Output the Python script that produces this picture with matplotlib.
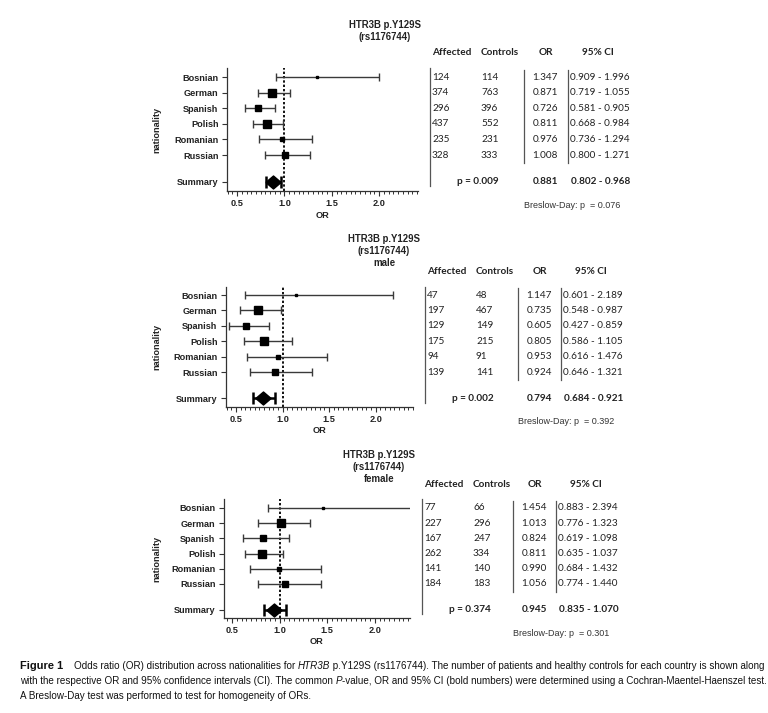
import numpy as np
import matplotlib
matplotlib.use("Agg")
import matplotlib.pyplot as plt
from matplotlib.transforms import blended_transform_factory
from matplotlib.ticker import MultipleLocator, FixedLocator
from matplotlib.lines import Line2D
from matplotlib import font_manager

# ---------------- data ----------------
nationalities = ["Bosnian", "German", "Spanish", "Polish", "Romanian", "Russian"]
summary_label = "Summary"
panel_titles = ["HTR3B p.Y129S\n(rs1176744)",
                "HTR3B p.Y129S\n(rs1176744)\nmale",
                "HTR3B p.Y129S\n(rs1176744)\nfemale"]
xticks = [0.5, 1.0, 1.5, 2.0]
xtick_labels = ["0.5", "1.0", "1.5", "2.0"]
table_headers = ["Affected", "Controls", "OR", "95% CI"]

# all
affected_all = [124, 374, 296, 437, 235, 328]
controls_all = [114, 763, 396, 552, 231, 333]
or_all = [1.347, 0.871, 0.726, 0.811, 0.976, 1.008]
lo_all = [0.909, 0.719, 0.581, 0.668, 0.736, 0.800]
hi_all = [1.996, 1.055, 0.905, 0.984, 1.294, 1.271]
sum_or_all, sum_lo_all, sum_hi_all = 0.881, 0.802, 0.968
p_all, bd_all = "0.009", "0.076"

# male
affected_m = [47, 197, 129, 175, 94, 139]
controls_m = [48, 467, 149, 215, 91, 141]
or_m = [1.147, 0.735, 0.605, 0.805, 0.953, 0.924]
lo_m = [0.601, 0.548, 0.427, 0.586, 0.616, 0.646]
hi_m = [2.189, 0.987, 0.859, 1.105, 1.476, 1.321]
sum_or_m, sum_lo_m, sum_hi_m = 0.794, 0.684, 0.921
p_m, bd_m = "0.002", "0.392"

# female
affected_f = [77, 227, 167, 262, 141, 184]
controls_f = [66, 296, 247, 334, 140, 183]
or_f = [1.454, 1.013, 0.824, 0.811, 0.990, 1.056]
lo_f = [0.883, 0.776, 0.619, 0.635, 0.684, 0.774]
hi_f = [2.394, 1.323, 1.098, 1.037, 1.432, 1.440]
sum_or_f, sum_lo_f, sum_hi_f = 0.945, 0.835, 1.070
p_f, bd_f = "0.374", "0.301"

panels = [
    (affected_all, controls_all, or_all, lo_all, hi_all, sum_or_all, sum_lo_all, sum_hi_all, p_all, bd_all),
    (affected_m, controls_m, or_m, lo_m, hi_m, sum_or_m, sum_lo_m, sum_hi_m, p_m, bd_m),
    (affected_f, controls_f, or_f, lo_f, hi_f, sum_or_f, sum_lo_f, sum_hi_f, p_f, bd_f),
]

# ---------------- layout ----------------
W, H = 768, 713
DPI = 100
fig = plt.figure(figsize=(W / DPI, H / DPI), dpi=DPI)
fig.patch.set_facecolor("white")

avail = {f.name for f in font_manager.fontManager.ttflist}
PLOT_FONT = "Liberation Sans"
TABLE_FONT = "Lato" if "Lato" in avail else "Liberation Sans"
CAP_FONT = "Liberation Sans Narrow" if "Liberation Sans Narrow" in avail else "Liberation Sans"

def fx(x):
    return x / W

def fy(y):
    return 1 - y / H

# per panel: axes box (left, top, right, bottom) in px, xlim, ylim, title centre, table column lines
layouts = [
    dict(box=(227, 68, 418, 191), xlim=(0.394, 2.41), ylim=(7.30, -0.58), title=(385, 31), cols=(430, 524, 568)),
    dict(box=(226, 287, 413, 407), xlim=(0.393, 2.40), ylim=(7.27, -0.52), title=(384, 251), cols=(425, 518, 561)),
    dict(box=(224, 499, 410, 618), xlim=(0.416, 2.37), ylim=(7.24, -0.59), title=(379, 467), cols=(422, 513, 556)),
]
SUM_Y = 6.7
LAB_FS = 6.6
TAB_FS = 7.2

for pdata, lay in zip(panels, layouts):
    aff, ctl, orv, lo, hi, sor, slo, shi, pval, bd = pdata
    orv, lo, hi = np.array(orv), np.array(lo), np.array(hi)
    l, t, r, b = lay["box"]
    ax = fig.add_axes([fx(l), fy(b), (r - l) / W, (b - t) / H])
    ax.set_xlim(*lay["xlim"])
    ax.set_ylim(*lay["ylim"])
    ys = np.arange(len(nationalities))

    # dotted reference line
    ax.axvline(1.0, color="black", lw=1.3, ls=(0, (1.3, 1.1)), zorder=1)

    # CIs
    ax.errorbar(orv, ys, xerr=[orv - lo, hi - orv], fmt="none", ecolor="#3a3a3a",
                elinewidth=1.0, capsize=2.6, capthick=1.0, zorder=2)
    # squares sized by inverse variance weight
    se = (np.log(hi) - np.log(lo)) / 3.92
    w = 1 / se ** 2
    side_px = np.maximum(8.8 * w / w.max(), 2.6)
    for xv, yv, s in zip(orv, ys, side_px):
        ax.plot(xv, yv, marker="s", ms=s * 0.72, color="black", ls="none", zorder=3)

    # summary
    ax.errorbar([sor], [SUM_Y], xerr=[[sor - slo], [shi - sor]], fmt="none", ecolor="black",
                elinewidth=1.8, capsize=4.2, capthick=1.8, zorder=2)
    diamond = [(-1, 0), (0, 0.85), (1, 0), (0, -0.85), (-1, 0)]
    ax.plot([sor], [SUM_Y], marker=diamond, ms=11, color="black", ls="none", zorder=3)

    # axes styling
    for sp in ["top", "right"]:
        ax.spines[sp].set_visible(False)
    for sp in ["left", "bottom"]:
        ax.spines[sp].set_color("#333333")
        ax.spines[sp].set_linewidth(0.9)
    ax.set_xticks(xticks)
    ax.set_xticklabels(xtick_labels)
    ax.xaxis.set_minor_locator(MultipleLocator(0.05))
    ax.set_yticks(list(ys) + [SUM_Y])
    ax.set_yticklabels(nationalities + [summary_label])
    ax.tick_params(axis="both", which="major", direction="out", length=3.5, width=0.8,
                   color="#333333", pad=2.5)
    ax.tick_params(axis="x", which="minor", direction="out", length=2, width=0.7, color="#333333")
    for lab in ax.get_xticklabels() + ax.get_yticklabels():
        lab.set_fontfamily(PLOT_FONT)
        lab.set_fontweight("bold")
        lab.set_fontsize(LAB_FS)
        lab.set_color("#222222")

    # title
    tx, ty = lay["title"]
    fig.text(fx(tx), fy(ty), pdata and panel_titles[layouts.index(lay)], ha="center", va="center",
             fontfamily=PLOT_FONT, fontweight="bold", fontsize=6.9, linespacing=1.2, color="#222222")
    # axis labels
    fig.text(fx(157), fy((t + b) / 2), "nationality", rotation=90, ha="center", va="center",
             fontfamily=PLOT_FONT, fontweight="bold", fontsize=LAB_FS, color="#222222")
    fig.text(fx((l + r) / 2), fy(b + 24), "OR", ha="center", va="center",
             fontfamily=PLOT_FONT, fontweight="bold", fontsize=LAB_FS, color="#222222")

    # table
    x1, x2, x3 = lay["cols"]
    tr = blended_transform_factory(fig.transFigure, ax.transData)
    kw = dict(transform=tr, fontfamily=TABLE_FONT, fontsize=TAB_FS, color="#222222",
              va="center", clip_on=False)
    hy = -1.55
    fig.text(fx(x1 + 2), hy, table_headers[0], ha="left", fontweight="bold", **kw)
    fig.text(fx(x1 + 51), hy, table_headers[1], ha="left", fontweight="bold", **kw)
    fig.text(fx(x2 + 22), hy, table_headers[2], ha="center", fontweight="bold", **kw)
    fig.text(fx(x3 + 30), hy, table_headers[3], ha="center", fontweight="bold", **kw)
    for i in range(len(nationalities)):
        fig.text(fx(x1 + 2), i, str(aff[i]), ha="left", **kw)
        fig.text(fx(x1 + 51), i, str(ctl[i]), ha="left", **kw)
        fig.text(fx(x2 + 34), i, f"{orv[i]:.3f}", ha="right", **kw)
        fig.text(fx(x3 + 2), i, f"{lo[i]:.3f} - {hi[i]:.3f}", ha="left", **kw)
    fig.text(fx(x1 + 27), SUM_Y, f"p = {pval}", ha="left", fontweight="bold", **kw)
    fig.text(fx(x2 + 34), SUM_Y, f"{sor:.3f}", ha="right", fontweight="bold", **kw)
    fig.text(fx(x3 + 3), SUM_Y, f"{slo:.3f} - {shi:.3f}", ha="left", fontweight="bold", **kw)
    # table rules
    fig.add_artist(Line2D([fx(x1), fx(x1)], [lay["ylim"][1], 7.0], transform=tr,
                          color="#555555", lw=0.9))
    for xx in (x2, x3):
        fig.add_artist(Line2D([fx(xx), fx(xx)], [-0.45, 5.5], transform=tr,
                              color="#555555", lw=0.9))
    # Breslow-Day
    fig.text(fx(x2), fy(b + 15), f"Breslow-Day: p  = {bd}", ha="left", va="center",
             fontfamily=PLOT_FONT, fontsize=6.5, color="#333333")

# ---------------- caption ----------------
renderer = fig.canvas.get_renderer()

def piece_width(txt, size, weight, style):
    a = fig.text(0, 0, "x" + txt + "x", fontsize=size, fontweight=weight, fontstyle=style, family=CAP_FONT)
    c = fig.text(0, 0, "xx", fontsize=size, fontweight=weight, fontstyle=style, family=CAP_FONT)
    wdt = a.get_window_extent(renderer).width - c.get_window_extent(renderer).width
    a.remove()
    c.remove()
    return wdt

cap_lines = [
    [("Figure 1", "bold", "normal", 1.12),
     ("    Odds ratio (OR) distribution across nationalities for ", "normal", "normal", 1.0),
     ("HTR3B", "normal", "italic", 1.0),
     (" p.Y129S (rs1176744). The number of patients and healthy controls for each country is shown along",
      "normal", "normal", 1.0)],
    [("with the respective OR and 95% confidence intervals (CI). The common ", "normal", "normal", 1.0),
     ("P", "normal", "italic", 1.0),
     ("-value, OR and 95% CI (bold numbers) were determined using a Cochran-Maentel-Haenszel test.",
      "normal", "normal", 1.0)],
    [("A Breslow-Day test was performed to test for homogeneity of ORs.", "normal", "normal", 1.0)],
]
base = 7.0
w1 = sum(piece_width(tx, base * m, wt, st) for tx, wt, st, m in cap_lines[0])
cap_fs = base * 744.0 / w1
cap_y = [669, 684, 699]
for line, yy in zip(cap_lines, cap_y):
    x = 20.0
    for tx, wt, st, m in line:
        fig.text(fx(x), fy(yy), tx, fontsize=cap_fs * m, fontweight=wt, fontstyle=st,
                 family=CAP_FONT, ha="left", va="baseline", color="#111111")
        x += piece_width(tx, cap_fs * m, wt, st)

fig.savefig("out.png", dpi=DPI, facecolor="white")
